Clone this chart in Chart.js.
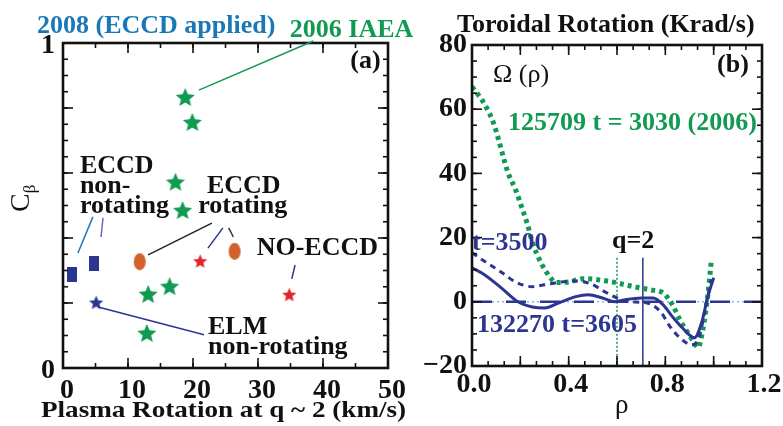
<!DOCTYPE html>
<html><head><meta charset="utf-8">
<script src="https://cdn.jsdelivr.net/npm/chart.js@4.4.1/dist/chart.umd.min.js"></script>
<style>
html,body{margin:0;padding:0;background:#fff;width:783px;height:426px;overflow:hidden}
#wa{position:absolute;left:0;top:0;width:420px;height:426px}
#wb{position:absolute;left:420px;top:0;width:363px;height:426px}
</style></head><body>
<div id="wa"><canvas id="ca"></canvas></div>
<div id="wb"><canvas id="cb"></canvas></div>
<script>
// ---------- Panel (a) data ----------
const aXTicks = [0, 10, 20, 30, 40, 50];
const aYTicks = [0, 1];
const iaea2006X = [18.8, 19.9, 17.3, 18.4, 13.1, 16.4, 12.9];
const iaea2006Y = [0.834, 0.757, 0.573, 0.486, 0.228, 0.252, 0.108];
const eccdNonRotX = [1.4, 4.8];
const eccdNonRotY = [0.288, 0.323];
const elmNonRotX = [5.1];
const elmNonRotY = [0.203];
const eccdRotX = [11.8, 26.4];
const eccdRotY = [0.327, 0.359];
const noEccdX = [21.1, 34.8];
const noEccdY = [0.330, 0.227];

// ---------- Panel (b) data ----------
const bXTicks = [0.0, 0.4, 0.8, 1.2];
const bYTicks = [-20, 0, 20, 40, 60, 80];
const rho2006 = [0.0, 0.05, 0.09, 0.11, 0.13, 0.15, 0.18, 0.21, 0.23, 0.25, 0.28, 0.31, 0.35, 0.40, 0.46, 0.52, 0.60, 0.67, 0.74, 0.79, 0.83, 0.86, 0.89, 0.92, 0.935, 0.955, 0.975, 0.99];
const omega2006 = [67, 61.8, 55.5, 50.5, 45, 40, 35, 28.5, 24, 18.5, 13, 9, 6, 6.2, 7.2, 6.9, 5.9, 4.7, 3.7, 2.8, -1, -5.6, -9.3, -12.8, -14.3, -8.7, 1.6, 12.5];
const rho3500 = [0.0, 0.05, 0.12, 0.18, 0.25, 0.30, 0.37, 0.44, 0.50, 0.55, 0.60, 0.65, 0.72, 0.78, 0.82, 0.86, 0.91, 0.94, 0.97, 0.99];
const omega3500 = [15.3, 12.7, 9.3, 6.2, 4.7, 5.3, 6.2, 6.5, 5.3, 3.1, 1.2, 0, -0.3, -3.1, -7.8, -11.2, -13.4, -10.9, -0.3, 6.9];
const rho3605 = [0.0, 0.05, 0.12, 0.19, 0.25, 0.30, 0.36, 0.43, 0.48, 0.54, 0.59, 0.63, 0.70, 0.75, 0.79, 0.83, 0.87, 0.92, 0.95, 0.976, 1.0];
const omega3605 = [10.6, 8.5, 4.4, 0, -1.6, -1.9, -0.3, 1.6, 2.2, 1.2, 0, 0.6, 1.2, 1.2, -0.9, -4.7, -8.1, -11.2, -6.5, 1.6, 7.5];
const q2Rho132270 = 0.707;
const q2Rho125709 = 0.60;
const q2Span = [13.7, -20];
const zeroRho = [0.0, 1.2];

const FONT = "'Liberation Serif', 'Times New Roman', serif";
const GREEN = '#119a52', SKY = '#1a78b6', NAVY = '#2c3590', ORANGE = '#d2622a', RED = '#e2252b', LILAC = '#6a6ab8', LIGHT = '#8fb4e6';

Chart.defaults.font.family = FONT;
Chart.defaults.color = '#111';

const pts = (xs, ys) => xs.map((x, i) => ({x: x, y: ys[i]}));

function starImg(R, ratio, fill) {
  const c = document.createElement('canvas');
  const s = Math.ceil(2 * R + 2);
  c.width = s; c.height = s;
  const g = c.getContext('2d');
  g.fillStyle = fill;
  g.beginPath();
  for (let i = 0; i < 10; i++) {
    const a = -Math.PI / 2 + i * Math.PI / 5;
    const rr = i % 2 ? R * ratio : R;
    g.lineTo(s / 2 + rr * Math.cos(a), s / 2 + 1 + rr * Math.sin(a));
  }
  g.closePath(); g.fill();
  return c;
}
function rectImg(w, h, fill) {
  const c = document.createElement('canvas'); c.width = w; c.height = h;
  const g = c.getContext('2d'); g.fillStyle = fill; g.fillRect(0, 0, w, h); return c;
}
function ellImg(w, h, fill) {
  const c = document.createElement('canvas'); c.width = w + 2; c.height = h + 2;
  const g = c.getContext('2d'); g.fillStyle = fill; g.beginPath();
  g.ellipse(c.width / 2, c.height / 2, w / 2, h / 2, 0, 0, Math.PI * 2); g.fill(); return c;
}

// annotation text / connectors (layout only)
const notes = {
  ca: [
    {t: '2008 (ECCD applied)', x: -4.0, y: 1.031, c: SKY},
    {t: '2006 IAEA', x: 34.9, y: 1.018, c: GREEN},
    {t: '(a)', x: 44.2, y: 0.923},
    {t: 'ECCD', x: 2.6, y: 0.600}, {t: 'non-', x: 2.6, y: 0.538}, {t: 'rotating', x: 2.6, y: 0.477},
    {t: 'ECCD', x: 22.15, y: 0.538}, {t: 'rotating', x: 20.8, y: 0.477},
    {t: 'NO-ECCD', x: 29.8, y: 0.348},
    {t: 'ELM', x: 22.3, y: 0.105}, {t: 'non-rotating', x: 22.3, y: 0.043},
    {t: 'Plasma Rotation at q ~ 2 (km/s)', x: 24.7, y: -0.151, align: 'center', size: 24, sx: 1.13},
    {t: 'C', sub: 'β', x: -5.3, y: 0.48, rot: true, w: 'normal', size: 28}
  ],
  cb: [
    {t: 'Toroidal Rotation (Krad/s)', x: -0.062, y: 84.1},
    {t: '(b)', x: 1.014, y: 71.7},
    {t: 'Ω (ρ)', x: 0.087, y: 68.5, w: 'normal'},
    {t: '125709 t = 3030 (2006)', x: 0.149, y: 53.6, c: GREEN},
    {t: 't=3500', x: 0.0, y: 16.2, c: NAVY},
    {t: 'q=2', x: 0.579, y: 16.8},
    {t: '132270 t=3605', x: 0.021, y: -9.3, c: NAVY},
    {t: 'ρ', x: 0.62, y: -34.6, w: 'normal', align: 'center', size: 27}
  ]
};
const connectors = {
  ca: [
    [20.9, 0.855, 38.5, 1.006, GREEN],
    [2.3, 0.354, 4.6, 0.465, SKY],
    [5.85, 0.403, 6.15, 0.462, LILAC],
    [13.1, 0.348, 22.9, 0.446, '#222'],
    [22.3, 0.369, 24.6, 0.431, NAVY],
    [25.5, 0.431, 26.2, 0.403, '#333'],
    [35.2, 0.274, 35.7, 0.317, NAVY],
    [5.4, 0.188, 21.7, 0.102, NAVY]
  ],
  cb: []
};
const tickSteps = {
  ca: {xMaj: 10, xMin: 5, yMaj: 0.2, yMin: 0.05},
  cb: {xMaj: 0.2, xMin: 0.2 / 3, yMaj: 20, yMin: 5}
};

const framePlugin = {
  id: 'frame',
  afterDatasetsDraw(chart) {
    const id = chart.canvas.id;
    const {ctx, chartArea: a} = chart;
    const xs = chart.scales.x, ys = chart.scales.y;
    const st = tickSteps[id];
    ctx.save();
    ctx.strokeStyle = '#111';
    ctx.lineWidth = 1.6;
    const seg = (x1, y1, x2, y2) => { ctx.beginPath(); ctx.moveTo(x1, y1); ctx.lineTo(x2, y2); ctx.stroke(); };
    const run = (min, max, step, fn) => { const n = Math.round((max - min) / step); for (let i = 0; i <= n; i++) fn(min + i * step); };
    run(xs.min, xs.max, st.xMin, v => { const p = xs.getPixelForValue(v); seg(p, a.bottom, p, a.bottom - 5); seg(p, a.top, p, a.top + 5); });
    run(xs.min, xs.max, st.xMaj, v => { const p = xs.getPixelForValue(v); seg(p, a.bottom, p, a.bottom - 10); seg(p, a.top, p, a.top + 10); });
    run(ys.min, ys.max, st.yMin, v => { const p = ys.getPixelForValue(v); seg(a.left, p, a.left + 5, p); seg(a.right, p, a.right - 5, p); });
    run(ys.min, ys.max, st.yMaj, v => { const p = ys.getPixelForValue(v); seg(a.left, p, a.left + 10, p); seg(a.right, p, a.right - 10, p); });
    ctx.lineWidth = 2.6;
    ctx.strokeRect(a.left, a.top, a.right - a.left, a.bottom - a.top);
    for (const L of connectors[id]) {
      ctx.strokeStyle = L[4]; ctx.lineWidth = 1.5;
      seg(xs.getPixelForValue(L[0]), ys.getPixelForValue(L[1]), xs.getPixelForValue(L[2]), ys.getPixelForValue(L[3]));
    }
    ctx.restore();
  },
  afterDraw(chart) {
    const id = chart.canvas.id;
    const ctx = chart.ctx;
    const xs = chart.scales.x, ys = chart.scales.y;
    ctx.save();
    for (const n of notes[id]) {
      const size = n.size || 26;
      ctx.font = (n.w || 'bold') + ' ' + size + 'px ' + FONT;
      ctx.fillStyle = n.c || '#111';
      ctx.textAlign = n.align || 'left';
      ctx.textBaseline = 'alphabetic';
      const px = xs.getPixelForValue(n.x), py = ys.getPixelForValue(n.y);
      ctx.save();
      ctx.translate(px, py);
      if (n.rot) {
        ctx.rotate(-Math.PI / 2);
        ctx.fillText(n.t, 0, 0);
        const w = ctx.measureText(n.t).width;
        ctx.font = 'normal ' + Math.round(size * 0.62) + 'px ' + FONT;
        ctx.fillText(n.sub, w, 6);
      } else {
        if (n.sx) ctx.scale(n.sx, 1);
        ctx.fillText(n.t, 0, 0);
      }
      ctx.restore();
    }
    ctx.restore();
  }
};

const tickFont = {family: FONT, size: 28, weight: 'bold'};

// ---------- Chart (a) ----------
new Chart(document.getElementById('ca'), {
  type: 'scatter',
  data: {
    datasets: [
      {label: '2006 IAEA', data: pts(iaea2006X, iaea2006Y), pointStyle: starImg(10, 0.45, GREEN)},
      {label: 'ECCD non-rotating', data: pts(eccdNonRotX, eccdNonRotY), pointStyle: rectImg(10, 15, NAVY)},
      {label: 'ELM non-rotating', data: pts(elmNonRotX, elmNonRotY), pointStyle: starImg(7.5, 0.45, NAVY)},
      {label: 'ECCD rotating', data: pts(eccdRotX, eccdRotY), pointStyle: ellImg(12, 17, ORANGE)},
      {label: 'NO-ECCD', data: pts(noEccdX, noEccdY), pointStyle: starImg(7.5, 0.45, RED)}
    ]
  },
  options: {
    responsive: true, maintainAspectRatio: false, animation: false,
    layout: {padding: {top: 43, right: 32, left: 0, bottom: 0}},
    plugins: {legend: {display: false}, tooltip: {enabled: false}},
    scales: {
      x: {type: 'linear', min: 0, max: 50,
        afterBuildTicks: s => { s.ticks = aXTicks.map(v => ({value: v})); },
        afterFit: s => { s.height = 58; },
        grid: {display: false, drawTicks: false}, border: {display: false},
        ticks: {font: tickFont, color: '#111', padding: 6, labelOffset: 4, autoSkip: false, maxRotation: 0}},
      y: {type: 'linear', min: 0, max: 1,
        afterBuildTicks: s => { s.ticks = aYTicks.map(v => ({value: v})); },
        afterFit: s => { s.width = 63; },
        grid: {display: false, drawTicks: false}, border: {display: false},
        ticks: {font: tickFont, color: '#111', padding: 8, labelOffset: 3, autoSkip: false}}
    }
  },
  plugins: [framePlugin]
});

// ---------- Chart (b) ----------
new Chart(document.getElementById('cb'), {
  type: 'line',
  data: {
    datasets: [
      {label: '132270 t=3605', data: pts(rho3605, omega3605), borderColor: NAVY, borderWidth: 3, pointRadius: 0, cubicInterpolationMode: 'monotone', fill: false},
      {label: 't=3500', data: pts(rho3500, omega3500), borderColor: NAVY, borderWidth: 3, borderDash: [6, 5], pointRadius: 0, cubicInterpolationMode: 'monotone', fill: false},
      {label: '125709 t=3030 (2006)', data: pts(rho2006, omega2006), borderColor: GREEN, borderWidth: 5, borderDash: [4, 4], pointRadius: 0, cubicInterpolationMode: 'monotone', fill: false},
      {label: 'q=2 (132270)', data: pts([q2Rho132270, q2Rho132270], q2Span), borderColor: NAVY, borderWidth: 1.5, pointRadius: 0},
      {label: 'q=2 (125709)', data: pts([q2Rho125709, q2Rho125709], q2Span), borderColor: GREEN, borderWidth: 1.5, borderDash: [2, 2], pointRadius: 0},
      {label: 'zero', data: pts(zeroRho, [0, 0]), borderColor: NAVY, borderWidth: 2.5, borderDash: [20, 14], pointRadius: 0},
      {label: 'zero dots', data: pts(zeroRho, [0, 0]), borderColor: LIGHT, borderWidth: 1.5, borderDash: [2, 3], pointRadius: 0}
    ]
  },
  options: {
    responsive: true, maintainAspectRatio: false, animation: false,
    layout: {padding: {top: 45, right: 21, left: 0, bottom: 0}},
    plugins: {legend: {display: false}, tooltip: {enabled: false}},
    scales: {
      x: {type: 'linear', min: 0, max: 1.2,
        afterBuildTicks: s => { s.ticks = bXTicks.map(v => ({value: v})); },
        afterFit: s => { s.height = 60; },
        grid: {display: false, drawTicks: false}, border: {display: false},
        ticks: {font: tickFont, color: '#111', padding: 2, labelOffset: 2, autoSkip: false, maxRotation: 0,
          callback: v => Number(v).toFixed(1)}},
      y: {type: 'linear', min: -20, max: 80,
        afterBuildTicks: s => { s.ticks = bYTicks.map(v => ({value: v})); },
        afterFit: s => { s.width = 52; },
        grid: {display: false, drawTicks: false}, border: {display: false},
        ticks: {font: tickFont, color: '#111', padding: 5, autoSkip: false,
          callback: v => v < 0 ? '\u2212' + Math.abs(v) : String(v)}}
    }
  },
  plugins: [framePlugin]
});
</script>
</body></html>
